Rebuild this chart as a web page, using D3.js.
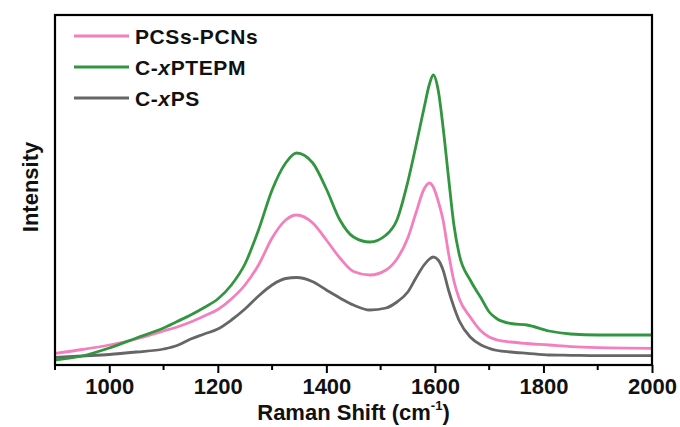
<!DOCTYPE html>
<html>
<head>
<meta charset="utf-8">
<script src="https://cdn.jsdelivr.net/npm/d3@7"></script>
<style>
  body { margin: 0; background: #fff; }
  svg text { font-family: "Liberation Sans", Arial, sans-serif; font-weight: bold; fill: #111; }
</style>
</head>
<body>
<div id="chart"></div>
<script>
// Raman shift (cm-1) sample points
const shift = [900, 950, 1000, 1050, 1100, 1125, 1150, 1175, 1200, 1225, 1250, 1275, 1300, 1325, 1345, 1375, 1400, 1425, 1450, 1480,
    1510, 1530, 1550, 1565, 1580, 1590, 1597, 1606, 1615, 1625, 1635, 1645, 1665, 1685, 1700, 1715, 1740, 1770, 1810, 1850, 1900, 2000];

// intensities (a.u.)
const pcsPcns = [11.7, 15.5, 20, 26, 34, 38, 43, 49, 55.5, 66, 80, 100, 127, 145, 150, 142, 125, 107, 93.5, 90,
    95, 106, 127, 152, 176, 182, 178, 164, 145, 112, 84, 66, 48, 34, 28, 25, 23, 21.5, 20, 18.3, 17.3, 16.7];
const cPtepm = [5, 9, 17, 27, 37, 43.5, 50, 57.5, 66, 80, 101, 135, 175, 202, 212, 202, 176, 145, 128, 123,
    130, 145, 183, 219, 257, 281, 290, 275, 238, 188, 140, 110, 85, 67, 53, 46, 41.5, 40, 34, 31, 30, 30];
const cPs = [7.5, 9, 10.5, 13, 16, 19.5, 26, 31, 36, 45, 56, 69, 80, 86.5, 87.5, 83.3, 75, 67, 60, 55,
    57, 63, 73, 87, 100, 106, 108, 105, 95, 75, 58, 44, 28, 20, 16.7, 14.5, 13, 11.7, 10, 9.7, 9.3, 9.3];

const xTicks = [1000, 1200, 1400, 1600, 1800, 2000];
const minorTicks = [900, 1100, 1300, 1500, 1700, 1900];

const seriesNames = ["PCSs-PCNs", "C-xPTEPM", "C-xPS"];
const seriesColors = ["#f47fbd", "#31963f", "#666666"];

const width = 680, height = 427;
const margin = { left: 55, right: 652, top: 15, bottom: 365 };

const svg = d3.select("#chart").append("svg")
    .attr("width", width)
    .attr("height", height);

const x = d3.scaleLinear().domain([900, 2000]).range([margin.left, margin.right]);
const y = d3.scaleLinear().domain([0, 350]).range([margin.bottom, margin.top]);

// draw gray first, then pink, green on top
const series = [
    { name: seriesNames[2], values: cPs, color: seriesColors[2] },
    { name: seriesNames[0], values: pcsPcns, color: seriesColors[0] },
    { name: seriesNames[1], values: cPtepm, color: seriesColors[1] }
];

const line = d3.line()
    .x((d, i) => x(shift[i]))
    .y(d => y(d))
    .curve(d3.curveMonotoneX);

svg.append("g")
    .selectAll("path")
    .data(series)
    .join("path")
    .attr("fill", "none")
    .attr("stroke", d => d.color)
    .attr("stroke-width", 2.8)
    .attr("stroke-linejoin", "round")
    .attr("d", d => line(d.values));

// bottom axis, major + minor ticks
const xAxis = svg.append("g")
    .attr("transform", `translate(0,${margin.bottom})`)
    .call(d3.axisBottom(x).tickValues(xTicks).tickSize(8).tickPadding(5).tickFormat(d3.format("d")));
xAxis.select(".domain").remove();
xAxis.selectAll(".tick line").attr("stroke", "#000").attr("stroke-width", 2);
xAxis.selectAll(".tick text").style("font-size", "22px").attr("dy", "0.72em");

svg.append("g")
    .selectAll("line")
    .data(minorTicks)
    .join("line")
    .attr("x1", d => x(d)).attr("x2", d => x(d))
    .attr("y1", margin.bottom).attr("y2", margin.bottom + 5)
    .attr("stroke", "#000").attr("stroke-width", 2);

// frame
svg.append("rect")
    .attr("x", margin.left).attr("y", margin.top)
    .attr("width", margin.right - margin.left).attr("height", margin.bottom - margin.top)
    .attr("fill", "none")
    .attr("stroke", "#000")
    .attr("stroke-width", 2.2);

// axis titles
const xt = svg.append("text")
    .attr("x", (margin.left + margin.right) / 2)
    .attr("y", 420)
    .attr("text-anchor", "middle")
    .style("font-size", "22px");
xt.append("tspan").text("Raman Shift (cm");
xt.append("tspan").text("-1").attr("dy", -10).style("font-size", "13px");
xt.append("tspan").text(")").attr("dy", 10);

svg.append("text")
    .attr("transform", `translate(38,187) rotate(-90)`)
    .attr("text-anchor", "middle")
    .style("font-size", "22px")
    .text("Intensity");

// legend
const legendItems = [0, 1, 2];
const legend = svg.append("g")
    .selectAll("g")
    .data(legendItems)
    .join("g")
    .attr("transform", (d, i) => `translate(74,${36 + i * 31})`);

legend.append("line")
    .attr("x1", 0).attr("x2", 55)
    .attr("stroke", d => seriesColors[d])
    .attr("stroke-width", 2.8);

legend.append("text")
    .attr("x", 61)
    .attr("y", 7.5)
    .style("font-size", "21px")
    .style("letter-spacing", "0.6px")
    .each(function(d) {
        const t = d3.select(this);
        const name = seriesNames[d];
        if (name.startsWith("C-x")) {
            t.append("tspan").text("C-");
            t.append("tspan").text("x").style("font-style", "italic");
            t.append("tspan").text(name.slice(3));
        } else {
            t.text(name);
        }
    });
</script>
</body>
</html>
